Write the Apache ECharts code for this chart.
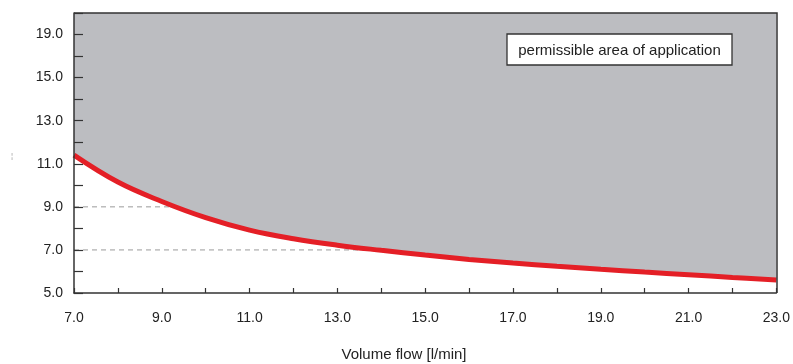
<!DOCTYPE html>
<html>
<head>
<meta charset="utf-8">
<script src="https://cdn.jsdelivr.net/npm/echarts@6/dist/echarts.min.js"></script>
<style>
  html, body { margin: 0; padding: 0; background: #fff; }
  #chart { width: 793px; height: 364px; }
</style>
</head>
<body>
<div id="chart"></div>
<script>
// Limit curve: volume flow [l/min] against the permitted value
const flowValues = [7, 8, 9, 10, 11, 12, 13, 14, 15, 16, 17, 18, 19, 20, 21, 22, 23];
const limitValues = [11.4, 10.15, 9.25, 8.5, 7.92, 7.52, 7.22, 6.98, 6.76, 6.56, 6.39, 6.24, 6.1, 5.97, 5.85, 5.72, 5.6];

// Y tick positions and the text printed at them
const yTickValues = [5, 7, 9, 11, 13, 15, 17];
const yTickText = ['5.0', '7.0', '9.0', '11.0', '13.0', '15.0', '19.0'];

// Dashed helper levels, drawn from the y axis to the curve
const refLevels = [9, 7];

const areaLabel = 'permissible area of application';
const xAxisTitle = 'Volume flow [l/min]';

const FONT = '"Liberation Sans", Arial, sans-serif';

// x where the curve falls to a given level (linear between samples)
function crossingX(level) {
  for (let i = 0; i < limitValues.length - 1; i++) {
    const a = limitValues[i], b = limitValues[i + 1];
    if ((a - level) * (b - level) <= 0) {
      return flowValues[i] + (a - level) / (a - b) * (flowValues[i + 1] - flowValues[i]);
    }
  }
  return flowValues[flowValues.length - 1];
}

const refSeries = refLevels.map(lv => ({
  type: 'line',
  data: [[flowValues[0], lv], [crossingX(lv), lv]],
  symbol: 'none',
  silent: true,
  z: 1,
  lineStyle: { color: '#9a9a9a', width: 1, type: [5, 4] }
}));

const chart = echarts.init(document.getElementById('chart'), null, { renderer: 'canvas' });

chart.setOption({
  animation: false,
  backgroundColor: '#ffffff',
  grid: { left: 74, right: 16, top: 13, bottom: 71, show: false },
  xAxis: {
    type: 'value',
    min: 7, max: 23, interval: 1,
    z: 10,
    axisLine: { lineStyle: { color: '#333', width: 1.5 } },
    axisTick: { inside: true, length: 5, lineStyle: { color: '#333', width: 1.2 } },
    axisLabel: {
      margin: 18, fontSize: 14, color: '#222', fontFamily: FONT,
      formatter: v => (v % 2 === 1 ? v.toFixed(1) : '')
    },
    splitLine: { show: false }
  },
  yAxis: {
    type: 'value',
    min: 5, max: 18, interval: 1,
    z: 10,
    axisLine: { show: true, lineStyle: { color: '#333', width: 1.5 } },
    axisTick: { show: true, inside: true, length: 9, lineStyle: { color: '#333', width: 1.2 } },
    axisLabel: {
      margin: 11, fontSize: 14, color: '#222', fontFamily: FONT,
      formatter: v => {
        const i = yTickValues.indexOf(v);
        return i >= 0 ? yTickText[i] : '';
      }
    },
    splitLine: { show: false }
  },
  series: [
    ...refSeries,
    {
      type: 'line',
      data: flowValues.map((x, i) => [x, limitValues[i]]),
      smooth: 0.4,
      symbol: 'none',
      z: 3,
      lineStyle: { color: '#e41f26', width: 5 },
      areaStyle: { origin: 'end', color: '#bcbdc1', opacity: 1 }
    }
  ],
  graphic: [
    // top and right frame of the plot
    {
      type: 'polyline',
      shape: { points: [[74, 13], [777, 13], [777, 293]] },
      style: { stroke: '#333', lineWidth: 1.5, fill: null },
      z: 10
    },
    {
      type: 'rect',
      shape: { x: 507, y: 34, width: 225, height: 31 },
      style: { fill: '#ffffff', stroke: '#333', lineWidth: 1.3 },
      z: 10
    },
    {
      type: 'text',
      x: 619.5, y: 51,
      style: {
        text: areaLabel, fill: '#222', fontSize: 15, fontFamily: FONT,
        align: 'center', verticalAlign: 'middle'
      },
      z: 11
    },
    {
      type: 'text',
      x: 404, y: 355,
      style: {
        text: xAxisTitle, fill: '#222', fontSize: 15, fontFamily: FONT,
        align: 'center', verticalAlign: 'middle'
      }
    },
    {
      type: 'text',
      x: 12, y: 156,
      style: {
        text: '¦', fill: '#9a9a9a', fontSize: 8, fontFamily: FONT,
        align: 'center', verticalAlign: 'middle'
      }
    }
  ]
});
</script>
</body>
</html>
